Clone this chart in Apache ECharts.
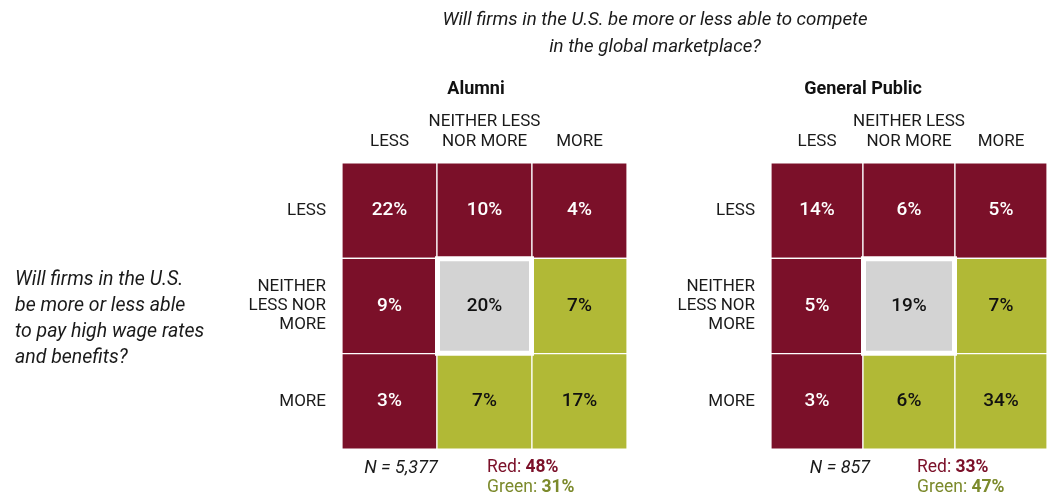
<!DOCTYPE html>
<html>
<head>
<meta charset="utf-8">
<script src="https://cdn.jsdelivr.net/npm/echarts@6/dist/echarts.min.js"></script>
<style>
  html, body { margin: 0; padding: 0; background: #fff; }
  #chart { width: 1047px; height: 497px; }
</style>
</head>
<body>
<div id="chart"></div>
<script>
// Column categories: ability to compete in the global marketplace
const colLabels = ['LESS', 'NEITHER LESS\nNOR MORE', 'MORE'];
// Row categories: ability to pay high wage rates and benefits
const rowLabels = ['LESS', 'NEITHER\nLESS NOR\nMORE', 'MORE'];

// Share of respondents (%), rows = wages, columns = competitiveness
const alumniValues = [
  [22, 10, 4],
  [9, 20, 7],
  [3, 7, 17]
];
const publicValues = [
  [14, 6, 5],
  [5, 19, 7],
  [3, 6, 34]
];

const panelTitles = ['Alumni', 'General Public'];
const sampleSizes = ['5,377', '857'];

const RED = '#7b1029';
const GREEN = '#b1b936';
const GRAY = '#d3d3d3';
const GREEN_TEXT = '#7c8a2c';
const FONT = 'Roboto, "Liberation Sans", sans-serif';

// red = either answer is "less", grey = neutral on both, green = the rest
function cellKind(r, c) {
  if (r === 0 || c === 0) return 'red';
  if (r === 1 && c === 1) return 'gray';
  return 'green';
}

function toCells(values) {
  const cells = [];
  values.forEach((row, r) => row.forEach((v, c) => cells.push([c, r, v])));
  // neutral cell drawn last so its white frame sits on top
  cells.sort((a, b) => (cellKind(a[1], a[0]) === 'gray') - (cellKind(b[1], b[0]) === 'gray'));
  return cells;
}

function totals(values) {
  let red = 0, green = 0;
  values.forEach((row, r) => row.forEach((v, c) => {
    const k = cellKind(r, c);
    if (k === 'red') red += v;
    if (k === 'green') green += v;
  }));
  return { red, green };
}

function renderCell(params, api) {
  const c = api.value(0), r = api.value(1), v = api.value(2);
  const center = api.coord([c, r]);
  const size = api.size([1, 1]);
  const x = center[0] - size[0] / 2, y = center[1] - size[1] / 2;
  const w = size[0], h = size[1];
  const kind = cellKind(r, c);
  const children = [];
  if (kind === 'gray') {
    children.push({ type: 'rect', shape: { x: x - 2, y: y - 2, width: w + 4, height: h + 4 }, style: { fill: '#fff' } });
    children.push({ type: 'rect', shape: { x: x + 3, y: y + 3, width: w - 6, height: h - 6 }, style: { fill: GRAY } });
  } else {
    children.push({
      type: 'rect',
      shape: { x: x, y: y, width: w, height: h },
      style: { fill: kind === 'red' ? RED : GREEN, stroke: '#fff', lineWidth: 1.2 }
    });
  }
  children.push({
    type: 'text',
    style: {
      x: center[0], y: center[1],
      text: v + '%',
      align: 'center', verticalAlign: 'middle',
      font: '500 19px ' + FONT,
      fill: kind === 'red' ? '#fff' : '#111'
    }
  });
  return { type: 'group', children: children };
}

const gridTop = 163, gridH = 286, gridW = 285;
const gridLefts = [342, 771];

const grids = gridLefts.map(l => ({ left: l, top: gridTop, width: gridW, height: gridH }));

const axisLabelStyle = { color: '#1a1a1a', fontSize: 17, fontFamily: FONT };

const xAxes = gridLefts.map((_, i) => ({
  type: 'category', gridIndex: i, position: 'top', data: colLabels,
  axisLine: { show: false }, axisTick: { show: false }, splitLine: { show: false },
  axisLabel: Object.assign({ margin: 11, lineHeight: 20, interval: 0 }, axisLabelStyle)
}));
const yAxes = gridLefts.map((_, i) => ({
  type: 'category', gridIndex: i, inverse: true, data: rowLabels,
  axisLine: { show: false }, axisTick: { show: false }, splitLine: { show: false },
  axisLabel: Object.assign({ margin: 16, lineHeight: 19, interval: 0, align: 'right' }, axisLabelStyle)
}));

const panels = [alumniValues, publicValues];
const series = panels.map((vals, i) => ({
  type: 'custom', xAxisIndex: i, yAxisIndex: i,
  renderItem: renderCell,
  data: toCells(vals),
  silent: true
}));

const graphics = [];
// top question
[['Will firms in the U.S. be more or less able to compete', 20], ['in the global marketplace?', 47]].forEach(([t, y]) => {
  graphics.push({
    type: 'text', x: 655, y: y,
    style: { text: t, align: 'center', verticalAlign: 'middle', font: 'italic 18.7px ' + FONT, fill: '#1a1a1a' }
  });
});
// side question
['Will firms in the U.S.', 'be more or less able', 'to pay high wage rates', 'and benefits?'].forEach((t, k) => {
  graphics.push({
    type: 'text', x: 15, y: 280 + k * 26,
    style: { text: t, align: 'left', verticalAlign: 'middle', font: 'italic 19.5px ' + FONT, fill: '#1a1a1a' }
  });
});
// panel titles
const titleX = [476, 863];
panelTitles.forEach((t, i) => {
  graphics.push({
    type: 'text', x: titleX[i], y: 89,
    style: { text: t, align: 'center', verticalAlign: 'middle', font: 'bold 18px ' + FONT, fill: '#111' }
  });
});
// footers: sample size and colour totals
const nX = [401, 840];
const redX = [487, 917];
panels.forEach((vals, i) => {
  const t = totals(vals);
  graphics.push({
    type: 'text', x: nX[i], y: 468,
    style: { text: 'N = ' + sampleSizes[i], align: 'center', verticalAlign: 'middle', font: 'italic 18px ' + FONT, fill: '#1a1a1a' }
  });
  graphics.push({
    type: 'text', x: redX[i], y: 468,
    style: {
      text: '{a|Red: }{b|' + t.red + '%}', align: 'left', verticalAlign: 'middle',
      rich: {
        a: { fontSize: 17.5, fontFamily: FONT, fill: RED, color: RED },
        b: { fontSize: 17.5, fontFamily: FONT, fontWeight: 'bold', fill: RED, color: RED }
      }
    }
  });
  graphics.push({
    type: 'text', x: redX[i], y: 488,
    style: {
      text: '{a|Green: }{b|' + t.green + '%}', align: 'left', verticalAlign: 'middle',
      rich: {
        a: { fontSize: 17.5, fontFamily: FONT, fill: GREEN_TEXT, color: GREEN_TEXT },
        b: { fontSize: 17.5, fontFamily: FONT, fontWeight: 'bold', fill: GREEN_TEXT, color: GREEN_TEXT }
      }
    }
  });
});

const chart = echarts.init(document.getElementById('chart'), null, { renderer: 'canvas' });
chart.setOption({
  animation: false,
  backgroundColor: '#fff',
  grid: grids,
  xAxis: xAxes,
  yAxis: yAxes,
  series: series,
  graphic: graphics
});
</script>
</body>
</html>
